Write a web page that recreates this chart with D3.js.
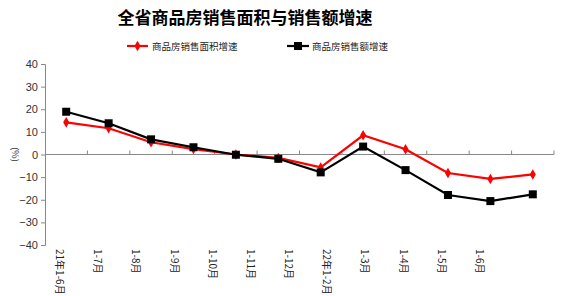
<!DOCTYPE html>
<html><head><meta charset="utf-8">
<script src="https://cdn.jsdelivr.net/npm/d3@7"></script>
<style>body{margin:0;background:#fff}svg{display:block}</style>
</head><body><svg id="c" width="577" height="296"></svg>
<script>
const categories=["21年1-6月","1-7月","1-8月","1-9月","1-10月","1-11月","1-12月","22年1-2月","1-3月","1-4月","1-5月","1-6月"];
const areaGrowth=[14.2,11.6,5.4,2.4,0,-1.5,-5.7,8.5,2.3,-8.2,-10.8,-8.8];
const salesGrowth=[18.9,13.8,6.7,3.2,-0.1,-1.9,-7.9,3.5,-6.9,-17.9,-20.6,-17.6];
const yTicks=[40,30,20,10,0,-10,-20,-30,-40];
const seriesNames=["商品房销售面积增速","商品房销售额增速"];

(function(){
const svg=d3.select("#c");
const font="'Noto Sans CJK SC','Noto Sans',sans-serif";
const pL=45,pR=554,pT=64,pB=245;
const x=d3.scaleBand().domain(categories).range([pL,pR]);
const xl=d3.scalePoint().domain(categories).range([60,480]);
const y=d3.scaleLinear().domain([-40,40]).range([pB,pT]);

svg.append("text").attr("x",245).attr("y",24).attr("text-anchor","middle")
 .attr("font-family",font).attr("font-weight","bold").attr("font-size",17).attr("fill","#000")
 .text("全省商品房销售面积与销售额增速");

const ya=svg.append("g").attr("transform",`translate(${pL},0)`)
 .call(d3.axisLeft(y).tickValues(yTicks).tickSize(4).tickPadding(3).tickFormat(d3.format("d")));
ya.select(".domain").attr("stroke","#888");
ya.selectAll(".tick line").attr("stroke","#888");
ya.selectAll("text").attr("font-family","'Liberation Sans',Arial,sans-serif").attr("font-size",11).attr("fill","#333");

svg.append("text").attr("transform",`translate(12,${y(0)}) rotate(90)`).attr("text-anchor","middle")
 .attr("font-family",font).attr("font-size",9).attr("fill","#333").text("(%)");

const xa=svg.append("g").attr("transform",`translate(0,${y(0)})`);
xa.append("line").attr("x1",pL).attr("x2",pR).attr("stroke","#888");
const bounds=categories.map(c=>x(c)+x.bandwidth());
xa.selectAll(".tk").data(bounds).enter().append("line").attr("x1",d=>d).attr("x2",d=>d)
 .attr("y1",0).attr("y2",-4).attr("stroke","#888");

svg.selectAll(".xl").data(categories).enter().append("text")
 .attr("transform",d=>`translate(${xl(d)-4},249) rotate(90)`)
 .attr("font-family",font).attr("font-size",10).attr("fill","#222").text(d=>d);

const cx=d=>x(d)+x.bandwidth()/2;
const line=d3.line().x((d,i)=>cx(categories[i])).y(d=>y(d));

svg.append("path").datum(areaGrowth).attr("d",line).attr("fill","none").attr("stroke","#ff0000").attr("stroke-width",2.2);
svg.append("path").datum(salesGrowth).attr("d",line).attr("fill","none").attr("stroke","#000").attr("stroke-width",2.2);

const diamond=d3.symbol().type(d3.symbolDiamond).size(32);
svg.selectAll(".rm").data(areaGrowth).enter().append("path")
 .attr("transform",(d,i)=>`translate(${cx(categories[i])},${y(d)})`).attr("d",diamond).attr("fill","#ff0000");
svg.selectAll(".bm").data(salesGrowth).enter().append("rect")
 .attr("x",(d,i)=>cx(categories[i])-4).attr("y",d=>y(d)-4).attr("width",8).attr("height",8).attr("fill","#000");

const lg=svg.append("g");
lg.append("line").attr("x1",127).attr("x2",148).attr("y1",46).attr("y2",46).attr("stroke","#ff0000").attr("stroke-width",2.2);
lg.append("path").attr("transform","translate(137.5,46)").attr("d",diamond).attr("fill","#ff0000");
lg.append("text").attr("x",152).attr("y",49.5).attr("font-family",font).attr("font-size",9.5).attr("fill","#222").text(seriesNames[0]);
lg.append("line").attr("x1",287).attr("x2",309).attr("y1",46).attr("y2",46).attr("stroke","#000").attr("stroke-width",2.2);
lg.append("rect").attr("x",294).attr("y",42).attr("width",8).attr("height",8).attr("fill","#000");
lg.append("text").attr("x",312).attr("y",49.5).attr("font-family",font).attr("font-size",9.5).attr("fill","#222").text(seriesNames[1]);
})();
</script></body></html>
